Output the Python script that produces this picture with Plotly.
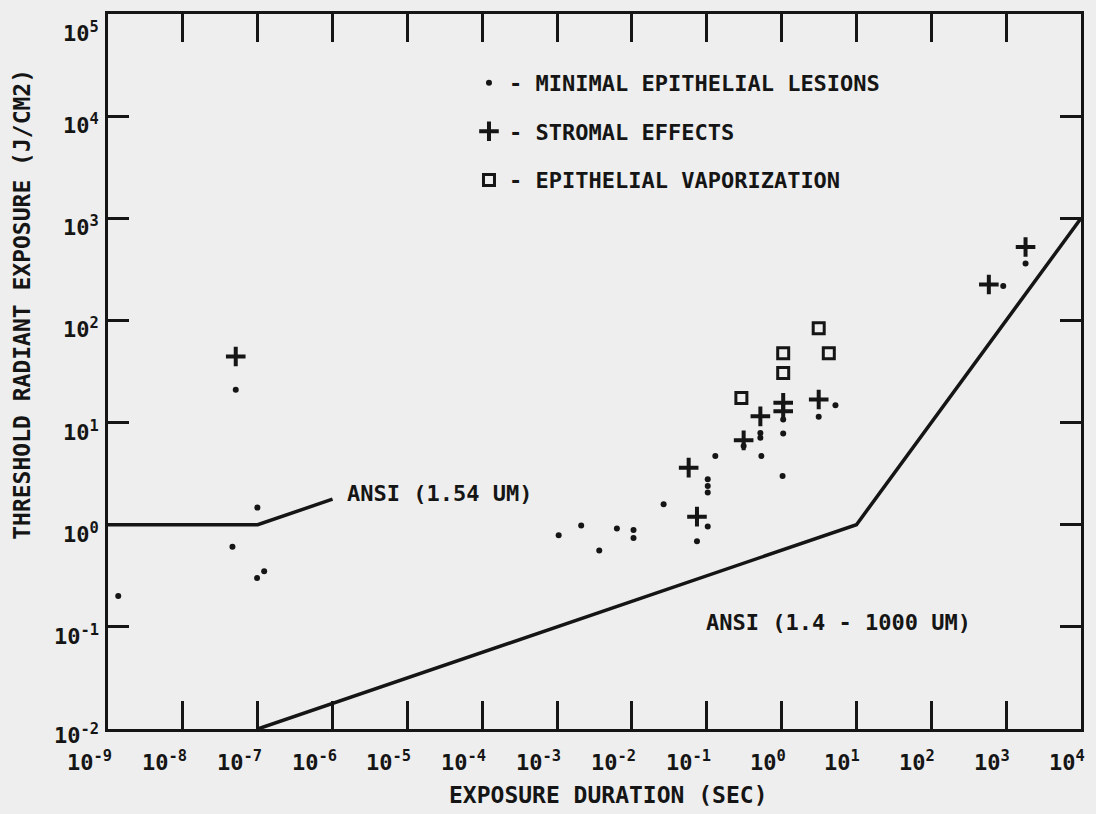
import plotly.graph_objects as go

# ---------------- data ----------------
# minimal epithelial lesions (".")
dot_x = [1.37e-9, 4.6e-8, 5.09e-8, 9.8e-8, 9.9e-8, 1.22e-7,
         1.05e-3, 2.1e-3, 3.66e-3, 6.3e-3, 0.0105, 0.0105, 0.0265,
         0.074, 0.103, 0.103, 0.103, 0.103, 0.130, 0.311, 0.537, 0.52, 0.52,
         1.05, 1.05, 1.03, 3.13, 5.24, 914, 1816]
dot_y = [0.20, 0.61, 21.0, 0.30, 1.47, 0.35,
         0.79, 0.98, 0.56, 0.92, 0.89, 0.74, 1.59,
         0.69, 0.96, 2.79, 2.40, 2.07, 4.7, 5.9, 4.7, 7.9, 7.1,
         7.8, 10.7, 3.0, 11.4, 14.8, 217, 360]

# stromal effects ("+")
plus_x = [5.09e-8, 0.0573, 0.074, 0.311, 0.52, 1.05, 1.05, 3.13, 587, 1816]
plus_y = [44.4, 3.62, 1.20, 6.7, 11.5, 15.6, 12.9, 16.8, 225, 524]

# epithelial vaporization ("D")
sq_x = [0.29, 1.05, 1.05, 3.13, 4.27]
sq_y = [17.4, 47.8, 30.5, 83.8, 47.8]

# ANSI limit lines
ansi154_x = [1e-9, 1e-7, 1e-6]
ansi154_y = [1, 1, 1.78]
ansi14_x = [1e-7, 10, 1e4]
ansi14_y = [0.01, 1, 1000]

x_exps = list(range(-9, 5))
y_exps = list(range(-2, 6))

legend_names = ["- MINIMAL EPITHELIAL LESIONS", "- STROMAL EFFECTS",
                "- EPITHELIAL VAPORIZATION"]
x_title = "EXPOSURE DURATION (SEC)"
y_title = "THRESHOLD RADIANT EXPOSURE (J/CM2)"
ansi154_label = "ANSI (1.54 UM)"
ansi14_label = "ANSI (1.4 - 1000 UM)"

# ---------------- styling ----------------
INK = "#151515"
BG = "#eeeeee"
FONT = "DejaVu Sans Mono"

fig = go.Figure()

fig.add_trace(go.Scatter(x=ansi154_x, y=ansi154_y, mode="lines",
                         line=dict(color=INK, width=3.5), showlegend=False,
                         hoverinfo="skip"))
fig.add_trace(go.Scatter(x=ansi14_x, y=ansi14_y, mode="lines",
                         line=dict(color=INK, width=3.5), showlegend=False,
                         hoverinfo="skip"))

fig.add_trace(go.Scatter(x=dot_x, y=dot_y, mode="markers", name=legend_names[0],
                         legendgroup="a",
                         marker=dict(symbol="circle", size=6, color=INK)))
fig.add_trace(go.Scatter(x=plus_x, y=plus_y, mode="markers", name=legend_names[1],
                         legendgroup="b",
                         marker=dict(symbol="cross-thin", size=14,
                                     line=dict(color=INK, width=4))))
fig.add_trace(go.Scatter(x=sq_x, y=sq_y, mode="markers", name=legend_names[2],
                         legendgroup="c",
                         marker=dict(symbol="square-open", size=11, color=INK,
                                     line=dict(color=INK, width=3))))

annotations = []
lab_font = dict(family=FONT, size=22, color=INK, weight="bold")
for e in x_exps:
    annotations.append(dict(x=e, y=0, xref="x", yref="paper",
                            text="10<sup>%d</sup>" % e, showarrow=False,
                            xanchor="right", yanchor="top", xshift=6, yshift=-16,
                            font=lab_font))
for e in y_exps:
    annotations.append(dict(x=0, y=e, xref="paper", yref="y",
                            text="10<sup>%d</sup>" % e, showarrow=False,
                            xanchor="right", yanchor="top", xshift=-7,
                            yshift=(-2 if e == 5 else (11 if e == -2 else 8)),
                            font=lab_font))

txt_font = dict(family=FONT, size=22, color=INK, weight="bold")
title_font = dict(family=FONT, size=23, color=INK, weight="bold")
annotations += [
    dict(x=0.5139, y=-0.0919, xref="paper", yref="paper", text=x_title,
         showarrow=False, xanchor="center", yanchor="middle", font=title_font),
    dict(x=-0.0884, y=0.5947, xref="paper", yref="paper", text=y_title,
         showarrow=False, xanchor="center", yanchor="middle", textangle=-90,
         font=title_font),
    dict(x=0.2436, y=0.3287, xref="paper", yref="paper", text=ansi154_label,
         showarrow=False, xanchor="left", yanchor="middle", font=txt_font),
    dict(x=0.6125, y=0.149, xref="paper", yref="paper", text=ansi14_label,
         showarrow=False, xanchor="left", yanchor="middle", font=txt_font),
]

axis_common = dict(type="log", showgrid=False, zeroline=False, showline=True,
                   linecolor=INK, linewidth=3, mirror="ticks", ticks="inside",
                   tickcolor=INK, tickwidth=3, showticklabels=False)

fig.update_layout(
    width=1096, height=814,
    margin=dict(l=108, r=15, t=11, b=85),
    paper_bgcolor=BG, plot_bgcolor=BG,
    font=dict(family=FONT, color=INK),
    xaxis=dict(range=[-9, 4], tickvals=[10 ** e for e in x_exps], ticklen=28,
               **axis_common),
    yaxis=dict(range=[-2, 5], tickvals=[10 ** e for e in y_exps], ticklen=21,
               **axis_common),
    showlegend=True,
    legend=dict(x=0.371, y=0.933, xanchor="left", yanchor="top",
                bgcolor="rgba(0,0,0,0)", borderwidth=0,
                font=dict(family=FONT, size=22, color=INK, weight="bold"),
                traceorder="grouped", tracegroupgap=17, itemsizing="trace",
                itemwidth=30),
    annotations=annotations,
)

fig.write_html("out.html")
